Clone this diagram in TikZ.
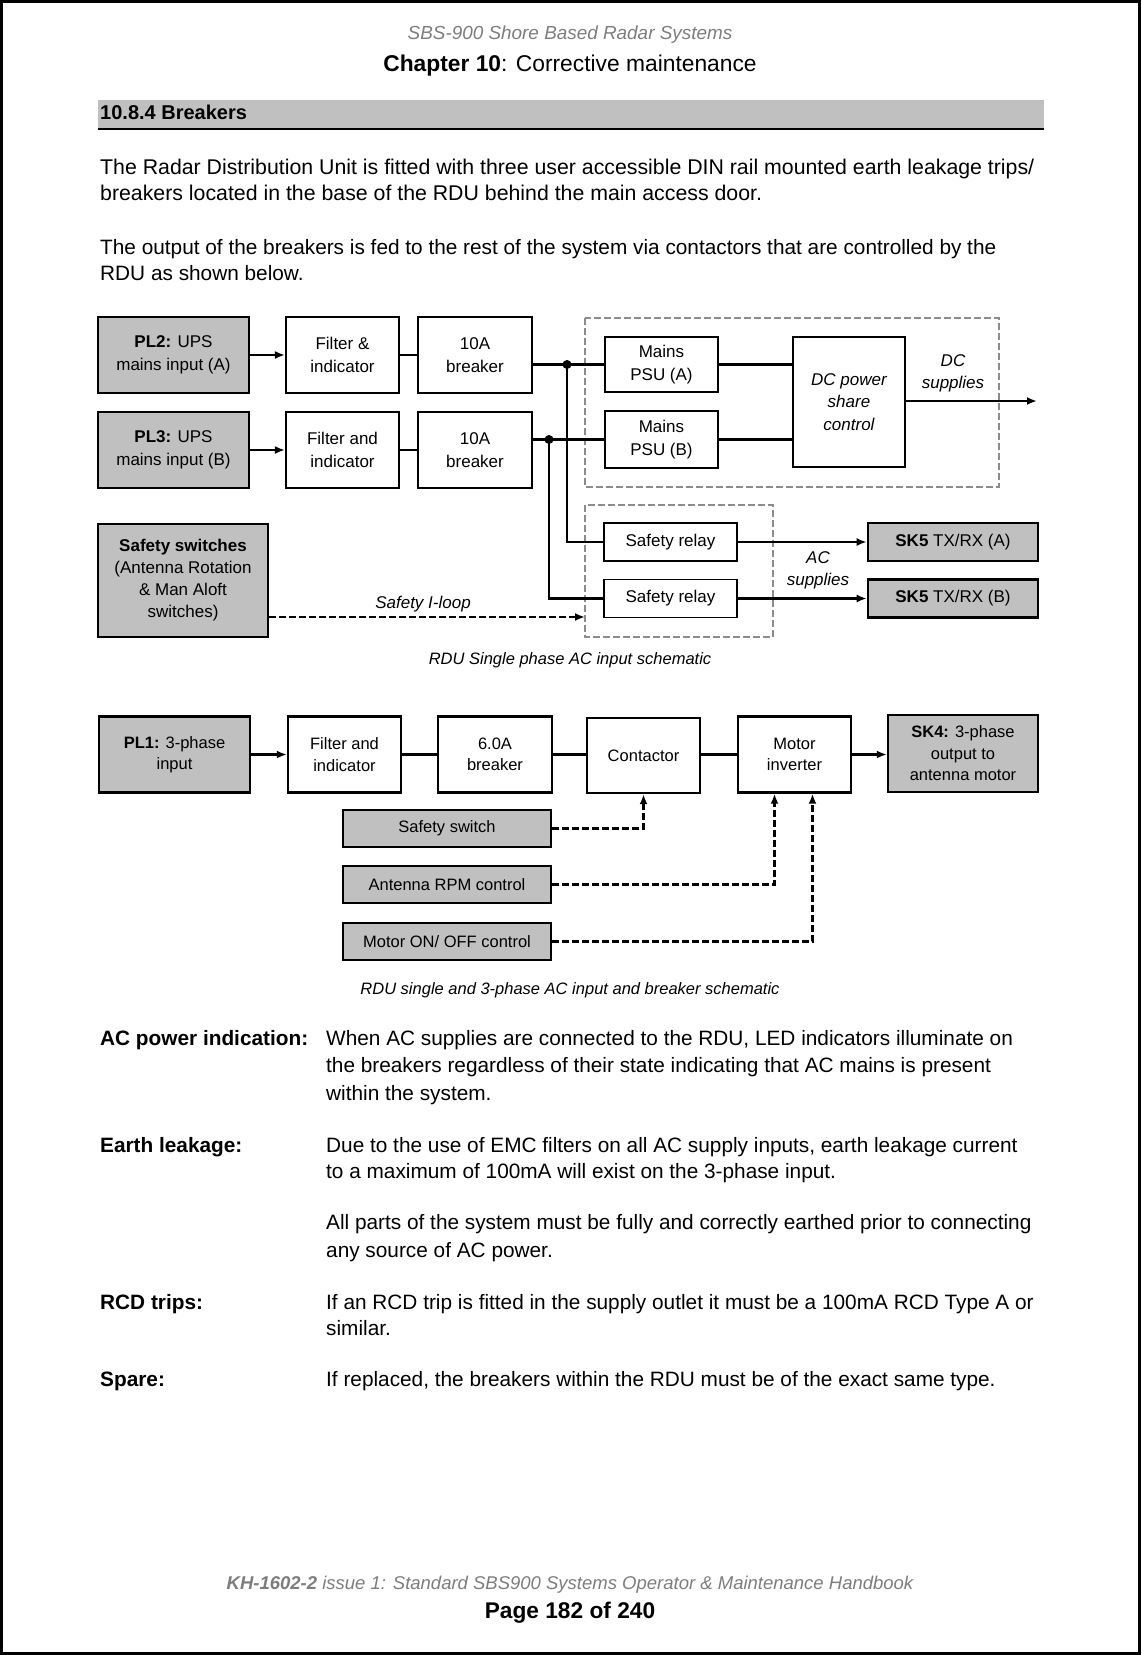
\documentclass[tikz,border=0pt]{standalone}
\usepackage{fontspec}
\setmainfont{Liberation Sans}
\usetikzlibrary{arrows.meta}

\definecolor{boxgray}{RGB}{192,192,192}
\definecolor{dashgray}{RGB}{140,140,140}
\definecolor{headgray}{RGB}{125,125,125}

\begin{document}
\begin{tikzpicture}[x=1pt,y=-1pt,>={Latex[length=10pt,width=8pt]}]
  \tikzstyle{body}=[font=\fontsize{20.8}{26.5}\selectfont, anchor=west, inner sep=0pt, text height=15pt, text depth=4pt]
  \tikzstyle{intro}=[body, font=\fontsize{21.3}{26.5}\selectfont]
  \tikzstyle{term}=[body, font=\fontsize{20.8}{26.5}\selectfont\bfseries]
  \tikzstyle{caption}=[font=\fontsize{16.5}{20}\selectfont\itshape, inner sep=0pt]
  \tikzstyle{plug}=[draw, line width=2.6pt, fill=boxgray, align=center, inner sep=0pt, font=\fontsize{17}{22.5}\selectfont]
  \tikzstyle{unit}=[draw, line width=2.2pt, fill=white, align=center, inner sep=0pt, font=\fontsize{17}{22.5}\selectfont]
  \tikzstyle{psu}=[draw, line width=1.4pt, fill=white, align=center, inner sep=0pt, font=\fontsize{17}{22.5}\selectfont]
  \tikzstyle{lowbox}=[draw, line width=2.4pt, align=center, inner sep=0pt, font=\fontsize{16.5}{21.5}\selectfont]
  \tikzstyle{wire}=[line width=2.5pt]
  \tikzstyle{loopline}=[line width=2.4pt, dash pattern=on 7pt off 3pt]
  \tikzstyle{group}=[draw=dashgray, line width=2.4pt, dash pattern=on 7pt off 3pt]
  \tikzstyle{note}=[font=\fontsize{17}{22}\selectfont\itshape, align=center, inner sep=0pt]

  \useasboundingbox (0,0) rectangle (1141,1655);
  \draw[line width=3pt] (1.5,1.5) rectangle (1139.5,1653.5);

  % page head
  \node[font=\fontsize{18.9}{22}\selectfont\itshape, text=headgray] (head) at (570,35) {SBS-900 Shore Based Radar Systems};
  \node[font=\fontsize{22.8}{26}\selectfont] (chap) at (570,66) {\textbf{Chapter 10}: Corrective maintenance};
  \fill[boxgray] (98,100) rectangle (1044,129);
  \draw[line width=2pt] (98,129) -- (1044,129);
  \node[font=\fontsize{20}{24}\selectfont\bfseries, anchor=west, inner sep=0pt] (sect) at (100,112) {10.8.4 Breakers};

  \node[intro] (t1) at (100,169) {The Radar Distribution Unit is fitted with three user accessible DIN rail mounted earth leakage trips/};
  \node[intro] (t2) at (100,195) {breakers located in the base of the RDU behind the main access door.};
  \node[body] (t3) at (100,249) {The output of the breakers is fed to the rest of the system via contactors that are controlled by the};
  \node[body] (t4) at (100,275) {RDU as shown below.};

  % single phase schematic
  \draw[group] (585,318) rectangle (999,487);
  \draw[group] (585,505) rectangle (773,637);

  \node[plug, minimum width=151pt, minimum height=76pt] (pl2) at (173.5,355) {\textbf{PL2:} UPS\\mains input (A)};
  \node[unit, minimum width=113pt, minimum height=76pt] (fila) at (342.5,355) {Filter \&\\indicator};
  \node[unit, minimum width=114pt, minimum height=76pt] (brka) at (475,355) {10A\\breaker};
  \node[plug, minimum width=151pt, minimum height=76pt] (pl3) at (173.5,450) {\textbf{PL3:} UPS\\mains input (B)};
  \node[unit, minimum width=113pt, minimum height=76pt] (filb) at (342.5,450) {Filter and\\indicator};
  \node[unit, minimum width=114pt, minimum height=76pt] (brkb) at (475,450) {10A\\breaker};
  \node[plug, minimum width=170pt, minimum height=113pt, font=\fontsize{17}{22}\selectfont] (safe) at (183,580.5) {\textbf{Safety switches}\\(Antenna Rotation\\\& Man Aloft\\switches)};

  \node[psu, minimum width=113pt, minimum height=55pt] (psua) at (661.5,364.5) {Mains\\PSU (A)};
  \node[psu, minimum width=113pt, minimum height=57pt] (psub) at (661.5,439.5) {Mains\\PSU (B)};
  \node[psu, minimum width=112pt, minimum height=130pt, font=\fontsize{17}{22.5}\selectfont\itshape] (dcps) at (849,402) {DC power\\share\\control};
  \node[psu, minimum width=133pt, minimum height=38pt] (rla) at (670.5,542) {Safety relay};
  \node[psu, minimum width=133pt, minimum height=38pt] (rlb) at (670.5,598.5) {Safety relay};
  \node[plug, minimum width=170pt, minimum height=38pt] (ska) at (953,542) {\textbf{SK5} TX/RX (A)};
  \node[plug, minimum width=170pt, minimum height=38pt] (skb) at (953,598.5) {\textbf{SK5} TX/RX (B)};

  \coordinate (ja) at (567,364.5);
  \coordinate (jb) at (549,439.5);
  \coordinate (dcout) at (1037,401);
  \coordinate (loopend) at (585,617);

  \draw[wire,->] (pl2) -- (fila);
  \draw[wire,->] (pl3) -- (filb);
  \draw[wire] (fila) -- (brka);
  \draw[wire] (filb) -- (brkb);
  \draw[wire] (brka.east |- psua.west) -- (psua.west);
  \draw[wire] (brkb.east |- psub.west) -- (psub.west);
  \draw[wire] (ja) |- (rla.west);
  \draw[wire] (jb) |- (rlb.west);
  \fill (ja) circle (4.5pt);
  \fill (jb) circle (4.5pt);
  \draw[wire] (psua.east) -- (psua.east -| dcps.west);
  \draw[wire] (psub.east) -- (psub.east -| dcps.west);
  \draw[line width=2pt,->] (dcps.east |- dcout) -- (dcout);
  \draw[wire,->] (rla) -- (ska);
  \draw[wire,->] (rlb) -- (skb);
  \draw[loopline,->] (safe.east |- loopend) -- (loopend);

  \node[note] (dclbl) at (953,373) {DC\\supplies};
  \node[note] (aclbl) at (818,570) {AC\\supplies};
  \node[note] (looplbl) at (423,604) {Safety I-loop};

  \node[caption] (cap1) at (570,660) {RDU Single phase AC input schematic};

  % three phase schematic
  \node[lowbox, fill=boxgray, minimum width=151pt, minimum height=76pt] (pl1) at (174.5,754.5) {\textbf{PL1:} 3-phase\\input};
  \node[lowbox, minimum width=113pt, minimum height=76pt] (filc) at (344.5,754.5) {Filter and\\indicator};
  \node[lowbox, minimum width=114pt, minimum height=76pt] (brkc) at (495,754.5) {6.0A\\breaker};
  \node[lowbox, minimum width=113pt, minimum height=75pt] (cont) at (643.5,755.5) {Contactor};
  \node[lowbox, minimum width=113pt, minimum height=76pt] (minv) at (794.5,754.5) {Motor\\inverter};
  \node[lowbox, fill=boxgray, minimum width=150pt, minimum height=77pt] (sk4) at (963,753.5) {\textbf{SK4:} 3-phase\\output to\\antenna motor};
  \node[lowbox, fill=boxgray, minimum width=208pt, minimum height=37pt] (sws) at (447,828.5) {Safety switch};
  \node[lowbox, fill=boxgray, minimum width=208pt, minimum height=37pt] (rpm) at (447,884.5) {Antenna RPM control};
  \node[lowbox, fill=boxgray, minimum width=208pt, minimum height=37pt] (onoff) at (447,941.5) {Motor ON/ OFF control};

  \draw[wire,->] (pl1) -- (filc);
  \draw[wire] (filc) -- (brkc);
  \draw[wire] (brkc) -- (brkc -| cont.west);
  \draw[wire] (cont.east |- minv) -- (minv);
  \draw[wire,->] (minv) -- (minv -| sk4.west);
  \draw[loopline,->] (sws) -| (cont);
  \draw[loopline,->] (rpm) -| ([xshift=-20pt]minv.south);
  \draw[loopline,->] (onoff) -| ([xshift=18pt]minv.south);

  \node[caption] (cap2) at (570,990) {RDU single and 3-phase AC input and breaker schematic};

  % notes
  \node[term] (l1) at (100,1040) {AC power indication:};
  \node[body] (d1) at (326,1040) {When AC supplies are connected to the RDU, LED indicators illuminate on};
  \node[body] (d2) at (326,1067) {the breakers regardless of their state indicating that AC mains is present};
  \node[body] (d3) at (326,1095) {within the system.};
  \node[term] (l2) at (100,1147) {Earth leakage:};
  \node[body] (d4) at (326,1147) {Due to the use of EMC filters on all AC supply inputs, earth leakage current};
  \node[body] (d5) at (326,1173) {to a maximum of 100mA will exist on the 3-phase input.};
  \node[body] (d6) at (326,1224) {All parts of the system must be fully and correctly earthed prior to connecting};
  \node[body] (d7) at (326,1252) {any source of AC power.};
  \node[term] (l3) at (100,1304) {RCD trips:};
  \node[body] (d8) at (326,1304) {If an RCD trip is fitted in the supply outlet it must be a 100mA RCD Type A or};
  \node[body] (d9) at (326,1330) {similar.};
  \node[term] (l4) at (100,1381) {Spare:};
  \node[body] (d10) at (326,1381) {If replaced, the breakers within the RDU must be of the exact same type.};

  % page foot
  \node[font=\fontsize{18.5}{22}\selectfont\itshape, text=headgray] (foot) at (570,1585) {\textbf{KH-1602-2} issue 1: Standard SBS900 Systems Operator \& Maintenance Handbook};
  \node[font=\fontsize{22.7}{26}\selectfont\bfseries] (page) at (570,1613) {Page 182 of 240};
\end{tikzpicture}
\end{document}
